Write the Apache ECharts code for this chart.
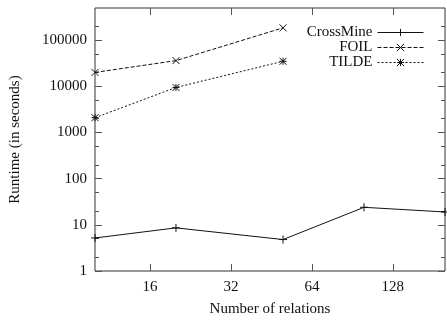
<!DOCTYPE html>
<html>
<head>
<meta charset="utf-8">
<script src="https://cdn.jsdelivr.net/npm/echarts@6/dist/echarts.min.js"></script>
<style>
html,body{margin:0;padding:0;background:#fff;}
#chart{width:447px;height:322px;}
</style>
</head>
<body>
<div id="chart"></div>
<script>
// Data
const relations = [10, 20, 50, 100, 200];
const crossMine = [5.2, 8.6, 4.8, 24, 19];
const foilRelations = [10, 20, 50];
const foil = [20100, 36200, 186000];
const tildeRelations = [10, 20, 50];
const tilde = [2100, 9500, 35000];

const xTicks = [16, 32, 64, 128];
const yMajorTicks = [1, 10, 100, 1000, 10000, 100000];
const yMinorTicks = [2, 5, 20, 50, 200, 500, 2000, 5000, 20000, 50000, 200000];

const FONT = 'Liberation Serif';
const TXT = '#111';
const TICK = '#555';

function pairs(xs, ys) { return xs.map((x, i) => [x, ys[i]]); }

const chart = echarts.init(document.getElementById('chart'), null, {renderer: 'canvas'});

const xBase = {
  type: 'log', logBase: 2, min: 10, max: 200,
  axisLine: {show: false},
  splitLine: {show: false},
  minorTick: {show: false}
};
const yBase = {
  type: 'log', logBase: 10, min: 1, max: 500000,
  axisLine: {show: false},
  splitLine: {show: false},
  minorTick: {show: false}
};

chart.setOption({
  animation: false,
  backgroundColor: '#fff',
  textStyle: {fontFamily: FONT, color: TXT},
  grid: {left: 95, right: 2, top: 8, bottom: 46, show: true, borderColor: '#333', borderWidth: 1, containLabel: false},
  legend: {
    orient: 'vertical', right: 18, top: 20, align: 'right',
    itemWidth: 46, itemHeight: 9, itemGap: 0,
    textStyle: {fontFamily: FONT, fontSize: 15, color: TXT, lineHeight: 14.3},
    lineStyle: {width: 1},
    itemStyle: {borderWidth: 1},
    data: ['CrossMine', 'FOIL', 'TILDE']
  },
  xAxis: [
    Object.assign({}, xBase, {
      position: 'bottom',
      name: 'Number of relations', nameLocation: 'middle', nameGap: 31,
      nameTextStyle: {fontFamily: FONT, fontSize: 15, color: TXT},
      axisTick: {show: true, inside: true, length: 7, lineStyle: {color: TICK}, customValues: xTicks},
      axisLabel: {show: true, margin: 9, fontFamily: FONT, fontSize: 15, color: TXT, customValues: xTicks, formatter: v => String(Math.round(v))}
    }),
    Object.assign({}, xBase, {
      position: 'top',
      axisTick: {show: true, inside: true, length: 7, lineStyle: {color: TICK}, customValues: xTicks},
      axisLabel: {show: false}
    })
  ],
  yAxis: [
    Object.assign({}, yBase, {
      position: 'left',
      name: 'Runtime (in seconds)', nameLocation: 'middle', nameGap: 72,
      nameTextStyle: {fontFamily: FONT, fontSize: 15, color: TXT},
      axisTick: {show: true, inside: true, length: 7, lineStyle: {color: TICK}, customValues: yMajorTicks},
      axisLabel: {show: true, margin: 8, fontFamily: FONT, fontSize: 15, color: TXT, customValues: yMajorTicks, formatter: v => String(Math.round(v))}
    }),
    Object.assign({}, yBase, {
      position: 'left',
      axisTick: {show: true, inside: true, length: 4, lineStyle: {color: TICK}, customValues: yMinorTicks},
      axisLabel: {show: false}
    }),
    Object.assign({}, yBase, {
      position: 'right',
      axisTick: {show: true, inside: true, length: 7, lineStyle: {color: TICK}, customValues: yMajorTicks},
      axisLabel: {show: false}
    }),
    Object.assign({}, yBase, {
      position: 'right',
      axisTick: {show: true, inside: true, length: 4, lineStyle: {color: TICK}, customValues: yMinorTicks},
      axisLabel: {show: false}
    })
  ],
  series: [
    {
      name: 'CrossMine', type: 'line', xAxisIndex: 0, yAxisIndex: 0,
      data: pairs(relations, crossMine),
      symbol: 'path://M0,5L10,5M5,0L5,10', symbolSize: 8,
      lineStyle: {color: '#111', width: 1, type: 'solid'},
      itemStyle: {color: '#111', borderColor: '#111', borderWidth: 1},
      emphasis: {disabled: true}
    },
    {
      name: 'FOIL', type: 'line', xAxisIndex: 0, yAxisIndex: 0,
      data: pairs(foilRelations, foil),
      symbol: 'path://M0,0L10,10M10,0L0,10', symbolSize: 7,
      lineStyle: {color: '#111', width: 1, type: [4, 2]},
      itemStyle: {color: '#111', borderColor: '#111', borderWidth: 1},
      emphasis: {disabled: true}
    },
    {
      name: 'TILDE', type: 'line', xAxisIndex: 0, yAxisIndex: 0,
      data: pairs(tildeRelations, tilde),
      symbol: 'path://M0,0L10,10M10,0L0,10M5,0L5,10M0,5L10,5', symbolSize: 7,
      lineStyle: {color: '#111', width: 1, type: [2, 2]},
      itemStyle: {color: '#111', borderColor: '#111', borderWidth: 1},
      emphasis: {disabled: true}
    }
  ]
});
</script>
</body>
</html>
